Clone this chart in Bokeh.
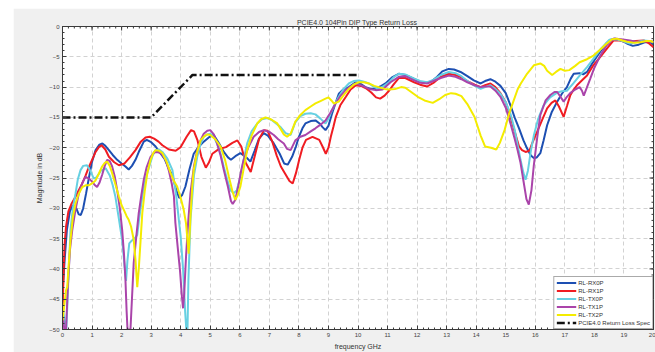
from math import pi

from bokeh.plotting import figure
from bokeh.models import Legend, LegendItem, Range1d, FixedTicker
from bokeh.embed import file_html
from bokeh.resources import INLINE

# ---- measured return loss (frequency in GHz, magnitude in dB) ----
freq_rx0 = [0.0, 0.08, 0.15, 0.25, 0.35, 0.45, 0.55, 0.62, 0.7, 0.8, 0.9, 1.0, 1.12, 1.25, 1.35, 1.45,
            1.57, 1.7, 1.85, 2.0, 2.13, 2.24, 2.35, 2.47, 2.6, 2.75, 2.85, 3.0, 3.15, 3.3, 3.45, 3.6,
            3.72, 3.85, 3.95, 4.05, 4.16, 4.3, 4.44, 4.6, 4.78, 4.95, 5.12, 5.3, 5.46, 5.6, 5.7, 5.85,
            6.02, 6.2, 6.36, 6.5, 6.65, 6.81, 6.95, 7.15, 7.35, 7.5, 7.62, 7.77, 7.9, 8.0, 8.12, 8.22,
            8.4, 8.56, 8.7, 8.8, 8.9, 9.0, 9.12, 9.25, 9.35, 9.5, 9.69, 9.92, 10.1, 10.25, 10.45, 10.6,
            10.75, 10.93, 11.15, 11.38, 11.6, 11.89, 12.1, 12.34, 12.5, 12.68, 12.85, 13.07, 13.25,
            13.47, 13.7, 13.92, 14.15, 14.3, 14.48, 14.65, 14.82, 15.0, 15.16, 15.3, 15.45, 15.6,
            15.72, 15.85, 15.95, 16.05, 16.17, 16.28, 16.4, 16.55, 16.74, 16.9, 17.07, 17.2, 17.3,
            17.5, 17.62, 17.75, 17.9, 18.08, 18.25, 18.4, 18.55, 18.7, 18.9, 19.1, 19.3, 19.5, 19.7,
            19.85, 20.0]
rl_rx0 = [-44, -38, -33.5, -30.5, -29.5, -29.8, -31, -31.1, -30, -27.5, -24.8, -22.3, -20.4, -19.5,
          -19.3, -19.7, -20.4, -21.2, -22.0, -22.6, -23.1, -23.6, -23.0, -22.0, -20.5, -19.0, -18.7,
          -19.1, -19.8, -20.8, -21.8, -23.5, -24.6, -27.0, -28.3, -27.8, -26.4, -23.5, -21.0, -19.9,
          -19.0, -18.3, -17.9, -19.3, -20.7, -21.6, -22.0, -21.4, -20.9, -21.5, -22.3, -20.5, -18.5,
          -17.6, -18.0, -19.3, -21.0, -22.6, -22.8, -21.5, -19.8, -18.2, -16.8, -16.0, -15.6, -15.5,
          -16.0, -16.6, -17.1, -16.4, -14.4, -12.5, -11.1, -10.4, -10.0, -9.2, -9.5, -10.0, -10.3,
          -10.3, -9.9, -9.4, -8.4, -7.8, -8.0, -8.6, -9.1, -9.3, -9.0, -8.3, -7.4, -7.0, -7.1, -7.5,
          -8.2, -8.9, -9.4, -9.0, -8.7, -9.1, -9.8, -11.0, -13.0, -15.0, -16.8, -18.8, -20.1, -21.3,
          -21.7, -21.6, -20.9, -18.8, -16.3, -14.2, -12.4, -11.1, -10.0, -8.6, -7.8, -7.7, -7.9,
          -7.5, -6.3, -5.0, -3.8, -2.8, -2.2, -2.0, -2.3, -2.8, -3.2, -3.0, -2.6, -2.6, -2.8]

freq_rx1 = [0.0, 0.03, 0.07, 0.12, 0.2, 0.3, 0.44, 0.55, 0.67, 0.78, 0.89, 1.0, 1.12, 1.23, 1.32, 1.45,
            1.57, 1.75, 1.91, 2.1, 2.28, 2.47, 2.65, 2.81, 2.95, 3.1, 3.25, 3.38, 3.6, 3.83, 4.0, 4.2,
            4.35, 4.45, 4.57, 4.7, 4.85, 4.95, 5.07, 5.3, 5.53, 5.75, 5.92, 6.05, 6.2, 6.37, 6.5, 6.65,
            6.82, 6.94, 7.1, 7.25, 7.39, 7.56, 7.68, 7.79, 7.9, 8.01, 8.12, 8.24, 8.46, 8.69, 8.8, 8.91,
            9.0, 9.08, 9.17, 9.25, 9.4, 9.59, 9.75, 9.93, 10.1, 10.27, 10.45, 10.61, 10.75, 10.9,
            11.05, 11.2, 11.38, 11.6, 11.9, 12.1, 12.34, 12.55, 12.8, 13.07, 13.3, 13.5, 13.7, 13.95,
            14.15, 14.3, 14.48, 14.65, 14.82, 15.0, 15.16, 15.3, 15.45, 15.55, 15.67, 15.8, 15.9,
            16.06, 16.25, 16.4, 16.55, 16.68, 16.8, 16.96, 17.08, 17.18, 17.3, 17.41, 17.6, 17.75,
            17.95, 18.2, 18.45, 18.65, 18.85, 19.1, 19.4, 19.67, 19.85, 20.0]
rl_rx1 = [-47.5, -42, -36, -33, -30.5, -29.3, -28.1, -27, -25.9, -24.6, -23.2, -22.0, -20.7, -19.9,
          -19.6, -20.3, -21.5, -22.4, -22.9, -22.6, -21.6, -20.4, -19.0, -18.3, -18.2, -18.5, -19.0,
          -19.6, -20.3, -20.5, -19.9, -18.2, -17.1, -17.3, -18.8, -21.5, -23.3, -22.5, -21.0, -20.2,
          -19.9, -19.2, -18.8, -19.8, -22.5, -24.0, -21.5, -18.6, -17.1, -17.2, -19.0, -21.3, -23.1,
          -24.5, -25.5, -25.9, -24.2, -22.0, -20.0, -18.7, -18.2, -18.7, -19.8, -21.0, -20.0, -18.2,
          -16.5, -14.9, -13.0, -11.6, -10.4, -9.7, -9.8, -10.2, -10.9, -11.7, -11.9, -11.4, -10.6,
          -9.6, -8.5, -8.5, -9.2, -9.6, -9.9, -9.3, -8.3, -7.8, -8.0, -8.4, -9.0, -9.6, -10.0, -9.7,
          -9.4, -10.0, -11.0, -12.5, -14.9, -17.3, -19.8, -20.4, -20.7, -20.5, -19.2, -17.4, -15.2,
          -13.5, -12.6, -12.2, -13.2, -14.9, -13.0, -11.4, -10.4, -9.7, -8.8, -8.1, -6.5, -5.0,
          -3.5, -2.3, -2.3, -2.6, -2.4, -2.3, -2.8, -3.4]

freq_tx0 = [0.0, 0.08, 0.13, 0.18, 0.27, 0.35, 0.44, 0.52, 0.61, 0.7, 0.83, 0.95, 1.06, 1.15, 1.3, 1.46,
            1.6, 1.7, 1.79, 1.9, 2.02, 2.1, 2.15, 2.2, 2.26, 2.35, 2.47, 2.53, 2.6, 2.7, 2.8, 2.93,
            3.05, 3.15, 3.27, 3.38, 3.55, 3.72, 3.85, 3.95, 4.0, 4.08, 4.15, 4.19, 4.23, 4.26, 4.33,
            4.45, 4.56, 4.67, 4.78, 4.9, 5.0, 5.12, 5.23, 5.35, 5.46, 5.57, 5.68, 5.8, 5.9, 6.02,
            6.13, 6.25, 6.4, 6.59, 6.75, 6.93, 7.1, 7.25, 7.38, 7.55, 7.72, 7.88, 8.05, 8.22, 8.4,
            8.56, 8.73, 8.9, 9.0, 9.12, 9.24, 9.35, 9.5, 9.69, 9.85, 10.03, 10.2, 10.37, 10.55, 10.7,
            10.88, 11.05, 11.2, 11.38, 11.6, 11.9, 12.1, 12.34, 12.55, 12.8, 13.07, 13.3, 13.5, 13.7,
            13.95, 14.15, 14.3, 14.48, 14.65, 14.82, 15.0, 15.16, 15.3, 15.4, 15.5, 15.6, 15.67,
            15.75, 15.85, 15.95, 16.1, 16.28, 16.5, 16.74, 16.9, 17.07, 17.3, 17.5, 17.75, 17.97,
            18.2, 18.5, 18.75, 19.0, 19.2, 19.4, 19.67, 19.85, 20.0]
rl_tx0 = [-46, -49, -50, -44, -33.6, -30, -27.6, -25.2, -23.7, -23.0, -22.9, -23.9, -25.1, -24.9,
          -23.8, -23.4, -24.6, -26.2, -28.1, -31.5, -35.3, -39.5, -42, -38.5, -35.8, -35.3, -34.8,
          -34.4, -31.5, -28.1, -25.4, -23.2, -21.3, -20.4, -20.3, -20.7, -21.8, -23.7, -28, -32.5,
          -34.7, -40, -47, -50, -50, -42, -32, -24.5, -21.5, -19.4, -18.2, -17.8, -17.7, -18.2,
          -19.3, -21.0, -23.2, -25.2, -27.0, -27.5, -27.0, -24.8, -22.0, -19.3, -17.3, -16.0, -15.3,
          -15.1, -15.5, -16.1, -16.6, -17.6, -17.9, -15.8, -14.8, -14.4, -14.3, -14.5, -15.2, -16.0,
          -15.2, -13.8, -12.6, -11.6, -10.4, -9.4, -9.0, -8.9, -9.1, -9.4, -10.0, -10.3, -9.8, -9.2,
          -8.4, -7.8, -7.9, -8.6, -9.0, -9.2, -8.8, -8.0, -7.5, -7.7, -8.2, -9.0, -9.8, -10.3,
          -10.0, -9.7, -10.3, -11.1, -12.5, -14.4, -17.0, -19.5, -22.0, -24.2, -25.3, -23.8, -20.5,
          -18.0, -15.2, -13.0, -11.7, -10.9, -10.7, -10.6, -9.3, -8.1, -6.7, -5.3, -3.8, -2.2,
          -2.1, -2.5, -2.8, -2.6, -2.3, -2.4, -2.6]

freq_tx1 = [0.0, 0.06, 0.12, 0.18, 0.25, 0.33, 0.44, 0.55, 0.67, 0.78, 0.9, 1.0, 1.1, 1.17, 1.25, 1.34,
            1.43, 1.51, 1.6, 1.68, 1.77, 1.85, 1.94, 2.02, 2.08, 2.13, 2.17, 2.2, 2.3, 2.35, 2.41,
            2.5, 2.58, 2.67, 2.75, 2.85, 2.98, 3.1, 3.21, 3.35, 3.49, 3.6, 3.7, 3.77, 3.82, 3.9,
            3.98, 4.04, 4.08, 4.12, 4.18, 4.25, 4.33, 4.45, 4.56, 4.67, 4.78, 4.9, 5.0, 5.12, 5.23,
            5.35, 5.46, 5.6, 5.7, 5.76, 5.85, 5.95, 6.05, 6.13, 6.3, 6.47, 6.65, 6.81, 7.0, 7.15,
            7.3, 7.49, 7.6, 7.72, 7.88, 8.05, 8.22, 8.4, 8.56, 8.73, 8.9, 9.07, 9.24, 9.4, 9.58,
            9.75, 9.92, 10.15, 10.37, 10.6, 10.83, 11.1, 11.38, 11.6, 11.9, 12.1, 12.34, 12.55, 12.8,
            13.07, 13.3, 13.5, 13.7, 13.95, 14.15, 14.3, 14.48, 14.65, 14.82, 15.0, 15.16, 15.3,
            15.4, 15.5, 15.6, 15.7, 15.78, 15.87, 15.95, 16.06, 16.17, 16.35, 16.51, 16.65, 16.74,
            16.85, 16.96, 17.07, 17.18, 17.35, 17.5, 17.58, 17.64, 17.75, 17.86, 18.0, 18.2, 18.4,
            18.65, 18.9, 19.2, 19.5, 19.75, 20.0]
rl_tx1 = [-47, -50, -50, -43, -37, -33.6, -30.2, -27.6, -25.8, -24.8, -25.1, -25.6, -26.2, -26.5,
          -25.8, -24.5, -23.0, -22.0, -22.2, -23.1, -24.8, -27.0, -30.0, -33.6, -37.5, -41.8, -47,
          -50, -50, -45, -39.0, -34.5, -30.8, -27.8, -25.3, -23.2, -21.5, -20.8, -20.7, -21.0,
          -22.0, -23.8, -26.0, -28.0, -32.4, -36.5, -40.5, -44.5, -46.5, -44, -38, -32.5, -27.5,
          -23.0, -20.4, -18.8, -17.7, -17.2, -17.1, -17.8, -19.3, -21.3, -23.7, -26.5, -28.8,
          -29.3, -28.6, -26.3, -23.7, -22.0, -19.8, -18.2, -17.4, -17.1, -17.4, -17.9, -18.6,
          -19.3, -20.2, -20.4, -18.8, -18.2, -17.9, -17.3, -16.8, -16.2, -15.5, -14.2, -12.7,
          -11.5, -10.5, -9.9, -9.4, -9.8, -10.3, -10.5, -10.4, -9.2, -8.3, -8.2, -8.9, -9.3, -9.4,
          -9.0, -8.5, -8.1, -8.3, -8.7, -9.2, -9.7, -10.0, -9.9, -9.9, -10.6, -11.6, -13.4, -16.0,
          -18.5, -20.4, -22.5, -25.5, -28.5, -29.4, -27, -22.9, -18.5, -14.6, -12.2, -11.3, -10.8,
          -10.8, -11.6, -12.4, -11.6, -11.0, -10.4, -10.0, -10.6, -11.4, -10.0, -8.6, -6.8, -4.8,
          -3.2, -2.0, -2.1, -2.3, -2.6, -2.4, -2.5]

freq_tx2 = [0.0, 0.06, 0.12, 0.16, 0.2, 0.27, 0.35, 0.44, 0.55, 0.67, 0.78, 0.89, 1.0, 1.12, 1.23, 1.34,
            1.43, 1.51, 1.6, 1.68, 1.8, 1.91, 2.0, 2.08, 2.17, 2.24, 2.32, 2.41, 2.47, 2.53, 2.58,
            2.64, 2.7, 2.78, 2.87, 2.98, 3.08, 3.15, 3.27, 3.38, 3.52, 3.66, 3.77, 3.88, 4.0, 4.1,
            4.18, 4.27, 4.33, 4.39, 4.44, 4.55, 4.67, 4.8, 4.9, 5.0, 5.17, 5.35, 5.5, 5.63, 5.75,
            5.85, 5.93, 6.02, 6.13, 6.25, 6.4, 6.59, 6.72, 6.87, 7.05, 7.27, 7.49, 7.6, 7.72, 7.88,
            8.05, 8.22, 8.4, 8.56, 8.73, 8.9, 9.0, 9.1, 9.18, 9.35, 9.5, 9.69, 9.85, 10.03, 10.2,
            10.37, 10.55, 10.7, 10.9, 11.05, 11.25, 11.46, 11.6, 11.8, 12.02, 12.25, 12.53, 12.75,
            12.95, 13.15, 13.3, 13.5, 13.7, 13.94, 14.15, 14.3, 14.5, 14.68, 14.8, 14.96, 15.1,
            15.27, 15.4, 15.5, 15.72, 15.95, 16.17, 16.3, 16.4, 16.57, 16.7, 16.85, 17.0, 17.15,
            17.35, 17.5, 17.75, 17.97, 18.2, 18.4, 18.6, 18.76, 18.95, 19.1, 19.35, 19.56, 19.75,
            19.9, 20.0]
rl_tx2 = [-48.5, -46, -43.5, -43, -40, -35.2, -31.5, -29.2, -27.6, -26.5, -26.2, -26.2, -25.9, -25.4,
          -24.3, -23.1, -22.5, -22.3, -23.0, -24.2, -26.2, -28.1, -29.5, -30.3, -31.3, -31.9, -33.0,
          -35.2, -38.5, -43.0, -40.1, -35.5, -30.8, -27.3, -24.2, -22.0, -20.8, -20.4, -20.5, -20.9,
          -22.3, -24.2, -25.5, -26.4, -28.3, -30.2, -32.5, -37.5, -31.5, -26.5, -23.7, -20.8, -18.8,
          -18.1, -17.8, -17.9, -18.6, -19.8, -22.0, -24.8, -27.2, -28.6, -27.8, -26.4, -23.5, -20.4,
          -18.0, -16.0, -15.3, -15.0, -15.3, -16.0, -17.8, -18.2, -17.7, -15.7, -14.6, -13.8, -13.2,
          -12.7, -12.3, -11.9, -11.7, -12.2, -12.7, -12.4, -11.4, -10.3, -9.6, -9.2, -9.2, -9.4,
          -9.8, -10.0, -10.3, -10.4, -10.3, -10.0, -10.1, -10.8, -11.6, -12.2, -12.6, -12.0, -11.3,
          -11.0, -11.1, -11.5, -12.8, -14.9, -18.0, -19.8, -20.0, -20.3, -19.2, -17.1, -14.6,
          -12.2, -10.4, -9.5, -7.8, -6.4, -6.1, -6.5, -7.3, -8.0, -7.5, -7.0, -7.3, -7.2, -6.5,
          -5.9, -5.4, -4.8, -3.8, -2.9, -2.1, -2.0, -2.3, -2.5, -2.7, -2.6, -2.4, -2.4, -2.6]

# PCIe 4.0 return loss limit mask
freq_spec = [0.0, 3.0, 4.4, 10.0]
rl_spec = [-15.0, -15.0, -8.0, -8.0]

series_names = ["RL-RX0P", "RL-RX1P", "RL-TX0P", "RL-TX1P", "RL-TX2P"]
series_colors = ["#1d4fb2", "#f01c22", "#66d0e2", "#aa44aa", "#f4ec00"]
spec_name = "PCIE4.0 Return Loss Spec"

x_major = list(range(0, 21))
y_major = list(range(-50, 1, 5))
x_minor = [i / 5 for i in range(0, 101)]
y_minor = list(range(-50, 1))

X_LO, X_HI = 0, 20
Y_LO, Y_HI = -50, 0

FONT = "Liberation Sans"
AXIS_COLOR = "#3a3a3a"

p = figure(width=642, height=344,
           x_range=Range1d(X_LO, X_HI), y_range=Range1d(Y_LO, Y_HI),
           title="PCIE4.0 104Pin DIP Type  Return Loss",
           output_backend="svg", toolbar_location=None,
           min_border_left=49, min_border_right=2, min_border_top=18, min_border_bottom=22,
           x_axis_label="frequency GHz", y_axis_label="Magnitude in dB")
p.margin = (8, 0, 0, 13)
p.background_fill_color = "white"
p.border_fill_color = "#f0f0f0"
p.outline_line_color = AXIS_COLOR
p.outline_line_width = 1

p.title.text_font = FONT
p.title.text_font_size = "7px"
p.title.text_font_style = "normal"
p.title.text_color = "#333333"
p.title.align = "center"
p.title.standoff = 2

for ax in p.xaxis:
    ax.ticker = FixedTicker(ticks=x_major, minor_ticks=x_minor)
for ax in p.yaxis:
    ax.ticker = FixedTicker(ticks=y_major, minor_ticks=y_minor)

for ax in list(p.xaxis) + list(p.yaxis):
    ax.axis_line_color = AXIS_COLOR
    ax.major_tick_in = 4
    ax.major_tick_out = 0
    ax.minor_tick_in = 2
    ax.minor_tick_out = 0
    ax.major_tick_line_color = AXIS_COLOR
    ax.minor_tick_line_color = AXIS_COLOR
    ax.major_label_text_font = FONT
    ax.major_label_text_font_size = "6px"
    ax.major_label_text_color = "#444444"
    ax.major_label_standoff = 3
    ax.axis_label_text_font = FONT
    ax.axis_label_text_font_size = "7px"
    ax.axis_label_text_font_style = "normal"
    ax.axis_label_text_color = "#333333"
    ax.axis_label_standoff = 3

p.xgrid.ticker = FixedTicker(ticks=x_major)
p.ygrid.ticker = FixedTicker(ticks=y_major)
for g in (p.xgrid, p.ygrid):
    g.grid_line_color = "#d2d2d2"
    g.grid_line_dash = "4 3"
    g.grid_line_width = 1

# inward box ticks along the top and right edges (no labels there)
p.ray(x=x_major, y=[Y_HI] * len(x_major), length=4, angle=-pi / 2, length_units="screen",
      line_color=AXIS_COLOR, line_width=1)
p.ray(x=x_minor, y=[Y_HI] * len(x_minor), length=2, angle=-pi / 2, length_units="screen",
      line_color=AXIS_COLOR, line_width=1)
p.ray(x=[X_HI] * len(y_major), y=y_major, length=4, angle=pi, length_units="screen",
      line_color=AXIS_COLOR, line_width=1)
p.ray(x=[X_HI] * len(y_minor), y=y_minor, length=2, angle=pi, length_units="screen",
      line_color=AXIS_COLOR, line_width=1)

xs = [freq_rx0, freq_rx1, freq_tx0, freq_tx1, freq_tx2]
ys = [rl_rx0, rl_rx1, rl_tx0, rl_tx1, rl_tx2]
items = []
for fx, ry, name, color in zip(xs, ys, series_names, series_colors):
    r = p.line(fx, ry, line_color=color, line_width=2)
    items.append(LegendItem(label=name, renderers=[r]))

r_spec = p.line(freq_spec, rl_spec, line_color="#111111", line_width=2.5, line_dash="8 3 2 3")
items.append(LegendItem(label=spec_name, renderers=[r_spec]))

legend = Legend(items=items, location="bottom_right")
legend.label_text_font = FONT
legend.label_text_font_size = "6px"
legend.label_text_color = "#333333"
legend.label_height = 7
legend.label_standoff = 2
legend.glyph_height = 7
legend.glyph_width = 20
legend.spacing = 1
legend.padding = 2
legend.margin = 0
legend.border_line_color = "#555555"
legend.background_fill_color = "white"
legend.background_fill_alpha = 1.0
p.add_layout(legend)

open("out.html", "w").write(file_html(p, INLINE))
